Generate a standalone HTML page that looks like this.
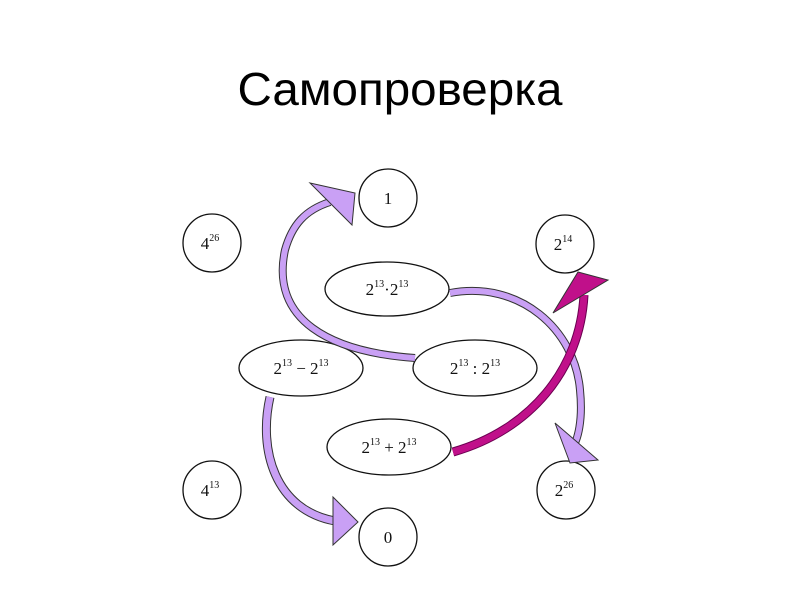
<!DOCTYPE html>
<html><head><meta charset="utf-8"><style>body{margin:0;background:#fff}svg{display:block}</style></head>
<body>
<svg width="800" height="600" xmlns="http://www.w3.org/2000/svg">
<text x="400" y="105" text-anchor="middle" font-family="Liberation Sans, sans-serif" font-size="46" textLength="325" lengthAdjust="spacingAndGlyphs">Самопроверка</text>
<g fill="none" stroke="#111" stroke-width="1.3">
<circle cx="388" cy="198" r="29"/>
<circle cx="212" cy="243" r="29"/>
<circle cx="565" cy="244" r="29"/>
<circle cx="212" cy="490" r="29"/>
<circle cx="566" cy="490" r="29"/>
<circle cx="388" cy="537" r="29"/>
<ellipse cx="387" cy="289" rx="62" ry="27"/>
<ellipse cx="301" cy="368" rx="62" ry="28"/>
<ellipse cx="475" cy="368" rx="62" ry="28"/>
<ellipse cx="389" cy="447" rx="62" ry="28"/>
</g>
<!-- arrows -->
<g stroke="#333" stroke-width="1">
<path d="M415,358 C330,352 270,320 285,250 C292,225 305,210 330,202" fill="none" stroke="#333" stroke-width="8"/>
<path d="M415,358 C330,352 270,320 285,250 C292,225 305,210 330,202" fill="none" stroke="#c9a0f5" stroke-width="6"/>
<polygon points="310,183 355,193 352,225" fill="#c9a0f5"/>
<path d="M450,293 C520,280 575,330 580,390 C583,420 578,440 572,448" fill="none" stroke="#333" stroke-width="8"/>
<path d="M450,293 C520,280 575,330 580,390 C583,420 578,440 572,448" fill="none" stroke="#c9a0f5" stroke-width="6"/>
<polygon points="555,423 598,460 570,463" fill="#c9a0f5"/>
<path d="M453,452 C530,430 580,370 584,295" fill="none" stroke="#6a0050" stroke-width="9"/>
<path d="M453,452 C530,430 580,370 584,295" fill="none" stroke="#c0108a" stroke-width="7"/>
<polygon points="578,272 608,280 553,313" fill="#c0108a"/>
<path d="M270,397 C258,450 275,510 335,521" fill="none" stroke="#333" stroke-width="9"/>
<path d="M270,397 C258,450 275,510 335,521" fill="none" stroke="#c9a0f5" stroke-width="7"/>
<polygon points="333,497 358,522 333,545" fill="#c9a0f5"/>
</g>
<g font-family="Liberation Serif, serif" font-size="17" fill="#111" text-anchor="middle">
<text x="388" y="204">1</text>
<text x="388" y="543">0</text>
<text x="210" y="249">4<tspan font-size="10" dy="-8">26</tspan></text>
<text x="563" y="250">2<tspan font-size="10" dy="-8">14</tspan></text>
<text x="210" y="496">4<tspan font-size="10" dy="-8">13</tspan></text>
<text x="564" y="496">2<tspan font-size="10" dy="-8">26</tspan></text>
<text x="387" y="295">2<tspan font-size="10" dy="-8">13</tspan><tspan dy="8">·2</tspan><tspan font-size="10" dy="-8">13</tspan></text>
<text x="301" y="374">2<tspan font-size="10" dy="-8">13</tspan><tspan dy="8"> − 2</tspan><tspan font-size="10" dy="-8">13</tspan></text>
<text x="475" y="374">2<tspan font-size="10" dy="-8">13</tspan><tspan dy="8"> : 2</tspan><tspan font-size="10" dy="-8">13</tspan></text>
<text x="389" y="453">2<tspan font-size="10" dy="-8">13</tspan><tspan dy="8"> + 2</tspan><tspan font-size="10" dy="-8">13</tspan></text>
</g>
</svg>
</body></html>
